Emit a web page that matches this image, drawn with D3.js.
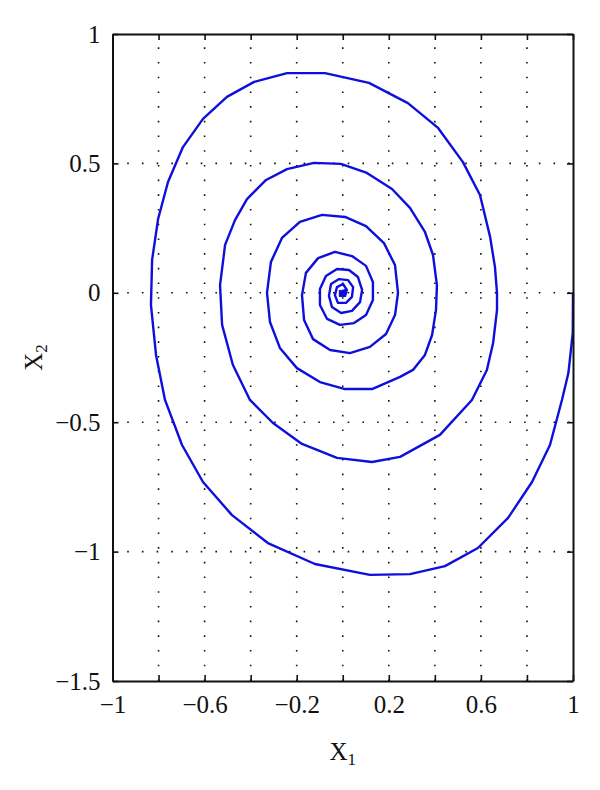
<!DOCTYPE html>
<html>
<head>
<meta charset="utf-8">
<script src="https://cdn.jsdelivr.net/npm/d3@7"></script>
<style>
  body { margin: 0; background: #fff; }
  text { font-family: "Liberation Serif", "DejaVu Serif", serif; fill: #111; }
</style>
</head>
<body>
<script>
// phase portrait (x1, x2 pairs, in order along the trajectory)
var x1 = [1.000, 0.999, 0.980, 0.952, 0.900, 0.822, 0.718, 0.587, 0.444, 0.292, 0.118, -0.121, -0.325, -0.481, -0.607, -0.698, -0.772, -0.811, -0.833, -0.828,
  -0.802, -0.759, -0.694, -0.607, -0.503, -0.385, -0.242, -0.077, 0.114, 0.283, 0.414, 0.522, 0.596, 0.640, 0.661, 0.670, 0.670, 0.653, 0.626, 0.561,
  0.422, 0.249, 0.127, -0.025, -0.177, -0.303, -0.403, -0.477, -0.524, -0.533, -0.511, -0.468, -0.416, -0.333, -0.242, -0.125, -0.008, 0.105, 0.214, 0.292,
  0.357, 0.392, 0.409, 0.405, 0.388, 0.357, 0.305, 0.249, 0.127, 0.010, -0.099, -0.199, -0.273, -0.316, -0.329, -0.312, -0.264, -0.186, -0.090, 0.010,
  0.101, 0.179, 0.227, 0.240, 0.227, 0.188, 0.118, 0.031, -0.055, -0.129, -0.168, -0.177, -0.160, -0.107, -0.034, 0.040, 0.101, 0.131, 0.131, 0.101,
  0.049, -0.012, -0.068, -0.099, -0.099, -0.073, -0.025, 0.027, 0.066, 0.084, 0.075, 0.040, -0.007, -0.047, -0.060, -0.051, -0.016, 0.023, 0.045, 0.040,
  0.014, -0.021, -0.034, -0.025, 0.001, 0.018, 0.010, -0.012, -0.012, -0.003, 0.008, 0.012, 0.006, -0.006, -0.008, 0.000, 0.005, 0.000, -0.003];
var x2 = [0.000, -0.155, -0.310, -0.414, -0.588, -0.731, -0.870, -0.986, -1.056, -1.087, -1.090, -1.048, -0.967, -0.859, -0.731, -0.588, -0.414, -0.240, -0.047, 0.127,
  0.285, 0.428, 0.563, 0.672, 0.757, 0.815, 0.849, 0.849, 0.811, 0.733, 0.637, 0.505, 0.378, 0.216, 0.100, 0.000, -0.066, -0.194, -0.298, -0.414,
  -0.549, -0.634, -0.654, -0.638, -0.584, -0.503, -0.414, -0.279, -0.124, 0.030, 0.185, 0.281, 0.362, 0.436, 0.478, 0.502, 0.498, 0.463, 0.401, 0.328,
  0.235, 0.146, 0.030, -0.066, -0.163, -0.240, -0.298, -0.325, -0.372, -0.372, -0.345, -0.291, -0.213, -0.113, 0.000, 0.119, 0.212, 0.274, 0.301, 0.293,
  0.258, 0.192, 0.107, 0.000, -0.086, -0.159, -0.209, -0.233, -0.221, -0.179, -0.105, -0.009, 0.077, 0.134, 0.158, 0.142, 0.104, 0.042, -0.028, -0.086,
  -0.117, -0.124, -0.101, -0.047, 0.015, 0.065, 0.092, 0.088, 0.061, 0.011, -0.036, -0.070, -0.078, -0.055, -0.012, 0.034, 0.053, 0.049, 0.022, -0.016,
  -0.039, -0.039, -0.009, 0.022, 0.034, 0.011, -0.012, -0.012, 0.007, 0.003, 0.010, 0.000, -0.010, -0.008, 0.003, 0.008, 0.000, -0.004, 0.000];

var xTicks = [-1, -0.8, -0.6, -0.4, -0.2, 0, 0.2, 0.4, 0.6, 0.8, 1];
var xLabels = [-1, -0.6, -0.2, 0.2, 0.6, 1];
var yTicks = [-1.5, -1, -0.5, 0, 0.5, 1];

var W = 600, H = 790;
var margin = {top: 34, right: 27, bottom: 109, left: 112.5};
var w = W - margin.left - margin.right;
var h = H - margin.top - margin.bottom;

var fmt = function(d) { return String(d).replace("-", "\u2212"); };

var svg = d3.select("body").append("svg")
    .attr("width", W)
    .attr("height", H);

var g = svg.append("g")
    .attr("transform", "translate(" + margin.left + "," + margin.top + ")");

var xScale = d3.scaleLinear().domain([-1, 1]).range([0, w]);
var yScale = d3.scaleLinear().domain([-1.5, 1]).range([h, 0]);

// dotted grid
g.append("g").selectAll("line")
    .data(xTicks.slice(1, -1))
    .enter().append("line")
      .attr("x1", function(d) { return xScale(d); })
      .attr("x2", function(d) { return xScale(d); })
      .attr("y1", h)
      .attr("y2", 0)
      .attr("stroke", "#111")
      .attr("stroke-width", 1.6)
      .attr("stroke-dasharray", "1.6,13.1");

g.append("g").selectAll("line")
    .data(yTicks.slice(1, -1))
    .enter().append("line")
      .attr("x1", 0)
      .attr("x2", w)
      .attr("y1", function(d) { return yScale(d); })
      .attr("y2", function(d) { return yScale(d); })
      .attr("stroke", "#111")
      .attr("stroke-width", 1.6)
      .attr("stroke-dasharray", "1.6,13.1");

// trajectory
var pts = x1.map(function(d, i) { return [d, x2[i]]; });
var line = d3.line()
    .x(function(d) { return xScale(d[0]); })
    .y(function(d) { return yScale(d[1]); });

g.append("path")
    .datum(pts)
    .attr("fill", "none")
    .attr("stroke", "#0f0fdc")
    .attr("stroke-width", 2.4)
    .attr("stroke-linejoin", "round")
    .attr("d", line);

// axes with inward ticks on all four sides
var xAxisB = d3.axisBottom(xScale).tickValues(xTicks).tickSizeInner(-6).tickSizeOuter(0)
    .tickFormat(function(d) { return xLabels.indexOf(d) >= 0 ? fmt(d) : ""; })
    .tickPadding(14);
var xAxisT = d3.axisTop(xScale).tickValues(xTicks).tickSizeInner(-6).tickSizeOuter(0).tickFormat("");
var yAxisL = d3.axisLeft(yScale).tickValues(yTicks).tickSizeInner(-6).tickSizeOuter(0)
    .tickFormat(fmt).tickPadding(12);
var yAxisR = d3.axisRight(yScale).tickValues(yTicks).tickSizeInner(-6).tickSizeOuter(0).tickFormat("");

function styleAxis(sel) {
  sel.select(".domain").attr("stroke", "#111").attr("stroke-width", 2);
  sel.selectAll(".tick line").attr("stroke", "#111").attr("stroke-width", 1.6);
  sel.selectAll(".tick text")
      .attr("font-family", "Liberation Serif, DejaVu Serif, serif")
      .attr("font-size", 25)
      .attr("fill", "#111");
}

g.append("g").attr("transform", "translate(0," + h + ")").call(xAxisB).call(styleAxis);
g.append("g").call(xAxisT).call(styleAxis);
g.append("g").call(yAxisL).call(styleAxis);
g.append("g").attr("transform", "translate(" + w + ",0)").call(yAxisR).call(styleAxis);

// axis labels
var xl = svg.append("text")
    .attr("x", margin.left + w / 2)
    .attr("y", 760)
    .attr("text-anchor", "middle")
    .attr("font-size", 25);
xl.append("tspan").text("X");
xl.append("tspan").attr("font-size", 17).attr("dy", 5).text("1");

var yl = svg.append("text")
    .attr("transform", "translate(42," + (margin.top + h / 2) + ") rotate(-90)")
    .attr("text-anchor", "middle")
    .attr("font-size", 25);
yl.append("tspan").text("X");
yl.append("tspan").attr("font-size", 17).attr("dy", 5).text("2");
</script>
</body>
</html>
